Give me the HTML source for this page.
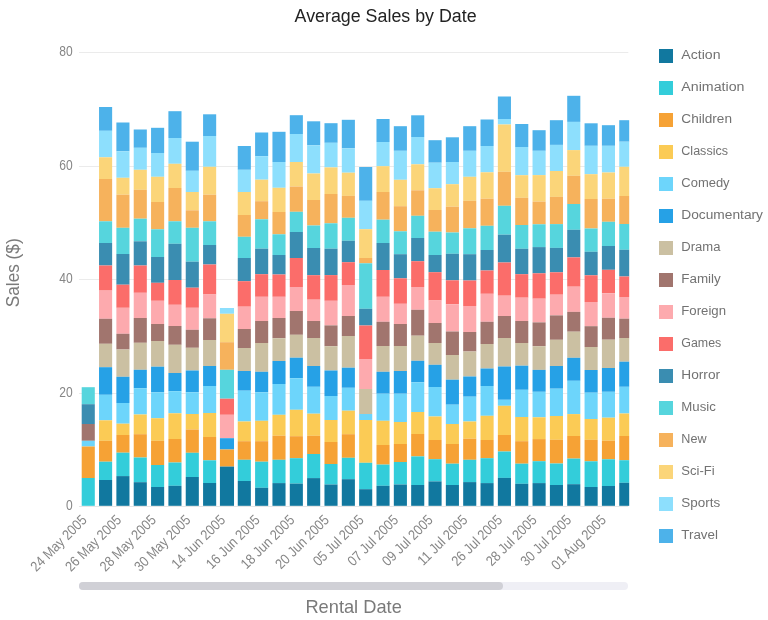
<!DOCTYPE html>
<html><head><meta charset="utf-8"><title>Average Sales by Date</title>
<style>html,body{margin:0;padding:0;background:#fff}body{width:768px;height:620px;overflow:hidden}svg{display:block;will-change:transform}text{font-family:"Liberation Sans",sans-serif}</style></head><body>
<svg width="768" height="620" viewBox="0 0 768 620">
<defs><clipPath id="pc"><rect x="78" y="40" width="551.2" height="470"/></clipPath></defs>
<rect width="768" height="620" fill="#fff"/>
<text x="385.6" y="22.0" font-size="18" fill="#222" text-anchor="middle" textLength="182.0" lengthAdjust="spacingAndGlyphs">Average Sales by Date</text>
<line x1="79" x2="628.3" y1="52.5" y2="52.5" stroke="#ebebeb" stroke-width="1"/>
<text x="72.6" y="56.0" font-size="14.3" fill="#868686" text-anchor="end" textLength="13.4" lengthAdjust="spacingAndGlyphs">80</text>
<line x1="79" x2="628.3" y1="166.5" y2="166.5" stroke="#ebebeb" stroke-width="1"/>
<text x="72.6" y="170.0" font-size="14.3" fill="#868686" text-anchor="end" textLength="13.4" lengthAdjust="spacingAndGlyphs">60</text>
<line x1="79" x2="628.3" y1="279.5" y2="279.5" stroke="#ebebeb" stroke-width="1"/>
<text x="72.6" y="283.0" font-size="14.3" fill="#868686" text-anchor="end" textLength="13.4" lengthAdjust="spacingAndGlyphs">40</text>
<line x1="79" x2="628.3" y1="393.5" y2="393.5" stroke="#ebebeb" stroke-width="1"/>
<text x="72.6" y="397.0" font-size="14.3" fill="#868686" text-anchor="end" textLength="13.4" lengthAdjust="spacingAndGlyphs">20</text>
<line x1="79" x2="628.3" y1="506.5" y2="506.5" stroke="#e6e6e6" stroke-width="1"/>
<text x="72.6" y="510.0" font-size="14.3" fill="#868686" text-anchor="end" textLength="6.7" lengthAdjust="spacingAndGlyphs">0</text>
<text transform="translate(18.7,272.8) rotate(-90)" font-size="19" fill="#7a7a7a" text-anchor="middle" textLength="68.8" lengthAdjust="spacingAndGlyphs">Sales ($)</text>
<g clip-path="url(#pc)" shape-rendering="auto">
<rect x="81.70" y="387.2" width="13.1" height="17.0" fill="#56d5dd"/>
<rect x="81.70" y="404.2" width="13.1" height="19.8" fill="#3a8db1"/>
<rect x="81.70" y="424.0" width="13.1" height="16.8" fill="#a1756e"/>
<rect x="81.70" y="440.8" width="13.1" height="5.7" fill="#6dd5fb"/>
<rect x="81.70" y="446.5" width="13.1" height="31.5" fill="#f6a235"/>
<rect x="81.70" y="478.0" width="13.1" height="27.8" fill="#33cdda"/>
<rect x="99.04" y="107.0" width="13.1" height="23.8" fill="#4db2ea"/>
<rect x="99.04" y="130.8" width="13.1" height="26.5" fill="#8ddffd"/>
<rect x="99.04" y="157.3" width="13.1" height="21.7" fill="#fbd579"/>
<rect x="99.04" y="179.0" width="13.1" height="42.3" fill="#f6b25c"/>
<rect x="99.04" y="221.3" width="13.1" height="21.7" fill="#56d5dd"/>
<rect x="99.04" y="243.0" width="13.1" height="22.5" fill="#3a8db1"/>
<rect x="99.04" y="265.5" width="13.1" height="25.1" fill="#fb6d6a"/>
<rect x="99.04" y="290.6" width="13.1" height="28.2" fill="#fdaaae"/>
<rect x="99.04" y="318.8" width="13.1" height="25.0" fill="#a1756e"/>
<rect x="99.04" y="343.8" width="13.1" height="23.4" fill="#cbc0a2"/>
<rect x="99.04" y="367.2" width="13.1" height="27.6" fill="#26a1e6"/>
<rect x="99.04" y="394.8" width="13.1" height="25.5" fill="#6dd5fb"/>
<rect x="99.04" y="420.3" width="13.1" height="20.5" fill="#fbcb55"/>
<rect x="99.04" y="440.8" width="13.1" height="20.9" fill="#f6a235"/>
<rect x="99.04" y="461.7" width="13.1" height="18.3" fill="#33cdda"/>
<rect x="99.04" y="480.0" width="13.1" height="25.8" fill="#11789f"/>
<rect x="116.38" y="122.5" width="13.1" height="28.8" fill="#4db2ea"/>
<rect x="116.38" y="151.3" width="13.1" height="26.5" fill="#8ddffd"/>
<rect x="116.38" y="177.8" width="13.1" height="16.9" fill="#fbd579"/>
<rect x="116.38" y="194.7" width="13.1" height="33.1" fill="#f6b25c"/>
<rect x="116.38" y="227.8" width="13.1" height="26.2" fill="#56d5dd"/>
<rect x="116.38" y="254.0" width="13.1" height="30.7" fill="#3a8db1"/>
<rect x="116.38" y="284.7" width="13.1" height="23.1" fill="#fb6d6a"/>
<rect x="116.38" y="307.8" width="13.1" height="26.0" fill="#fdaaae"/>
<rect x="116.38" y="333.8" width="13.1" height="15.7" fill="#a1756e"/>
<rect x="116.38" y="349.5" width="13.1" height="27.3" fill="#cbc0a2"/>
<rect x="116.38" y="376.8" width="13.1" height="26.2" fill="#26a1e6"/>
<rect x="116.38" y="403.0" width="13.1" height="20.7" fill="#6dd5fb"/>
<rect x="116.38" y="423.7" width="13.1" height="11.3" fill="#fbcb55"/>
<rect x="116.38" y="435.0" width="13.1" height="17.7" fill="#f6a235"/>
<rect x="116.38" y="452.7" width="13.1" height="23.4" fill="#33cdda"/>
<rect x="116.38" y="476.1" width="13.1" height="29.7" fill="#11789f"/>
<rect x="133.72" y="129.5" width="13.1" height="18.3" fill="#4db2ea"/>
<rect x="133.72" y="147.8" width="13.1" height="22.0" fill="#8ddffd"/>
<rect x="133.72" y="169.8" width="13.1" height="20.0" fill="#fbd579"/>
<rect x="133.72" y="189.8" width="13.1" height="28.9" fill="#f6b25c"/>
<rect x="133.72" y="218.7" width="13.1" height="22.6" fill="#56d5dd"/>
<rect x="133.72" y="241.3" width="13.1" height="24.2" fill="#3a8db1"/>
<rect x="133.72" y="265.5" width="13.1" height="27.3" fill="#fb6d6a"/>
<rect x="133.72" y="292.8" width="13.1" height="25.2" fill="#fdaaae"/>
<rect x="133.72" y="318.0" width="13.1" height="24.8" fill="#a1756e"/>
<rect x="133.72" y="342.8" width="13.1" height="27.0" fill="#cbc0a2"/>
<rect x="133.72" y="369.8" width="13.1" height="18.4" fill="#26a1e6"/>
<rect x="133.72" y="388.2" width="13.1" height="26.3" fill="#6dd5fb"/>
<rect x="133.72" y="414.5" width="13.1" height="19.7" fill="#fbcb55"/>
<rect x="133.72" y="434.2" width="13.1" height="23.3" fill="#f6a235"/>
<rect x="133.72" y="457.5" width="13.1" height="24.7" fill="#33cdda"/>
<rect x="133.72" y="482.2" width="13.1" height="23.6" fill="#11789f"/>
<rect x="151.06" y="127.8" width="13.1" height="25.2" fill="#4db2ea"/>
<rect x="151.06" y="153.0" width="13.1" height="23.8" fill="#8ddffd"/>
<rect x="151.06" y="176.8" width="13.1" height="25.2" fill="#fbd579"/>
<rect x="151.06" y="202.0" width="13.1" height="27.3" fill="#f6b25c"/>
<rect x="151.06" y="229.3" width="13.1" height="27.7" fill="#56d5dd"/>
<rect x="151.06" y="257.0" width="13.1" height="25.8" fill="#3a8db1"/>
<rect x="151.06" y="282.8" width="13.1" height="18.0" fill="#fb6d6a"/>
<rect x="151.06" y="300.8" width="13.1" height="23.2" fill="#fdaaae"/>
<rect x="151.06" y="324.0" width="13.1" height="17.0" fill="#a1756e"/>
<rect x="151.06" y="341.0" width="13.1" height="25.7" fill="#cbc0a2"/>
<rect x="151.06" y="366.7" width="13.1" height="25.6" fill="#26a1e6"/>
<rect x="151.06" y="392.3" width="13.1" height="25.9" fill="#6dd5fb"/>
<rect x="151.06" y="418.2" width="13.1" height="22.6" fill="#fbcb55"/>
<rect x="151.06" y="440.8" width="13.1" height="24.2" fill="#f6a235"/>
<rect x="151.06" y="465.0" width="13.1" height="22.0" fill="#33cdda"/>
<rect x="151.06" y="487.0" width="13.1" height="18.8" fill="#11789f"/>
<rect x="168.40" y="111.2" width="13.1" height="26.8" fill="#4db2ea"/>
<rect x="168.40" y="138.0" width="13.1" height="25.8" fill="#8ddffd"/>
<rect x="168.40" y="163.8" width="13.1" height="24.2" fill="#fbd579"/>
<rect x="168.40" y="188.0" width="13.1" height="33.3" fill="#f6b25c"/>
<rect x="168.40" y="221.3" width="13.1" height="22.5" fill="#56d5dd"/>
<rect x="168.40" y="243.8" width="13.1" height="36.2" fill="#3a8db1"/>
<rect x="168.40" y="280.0" width="13.1" height="24.8" fill="#fb6d6a"/>
<rect x="168.40" y="304.8" width="13.1" height="21.2" fill="#fdaaae"/>
<rect x="168.40" y="326.0" width="13.1" height="18.8" fill="#a1756e"/>
<rect x="168.40" y="344.8" width="13.1" height="28.2" fill="#cbc0a2"/>
<rect x="168.40" y="373.0" width="13.1" height="18.2" fill="#26a1e6"/>
<rect x="168.40" y="391.2" width="13.1" height="22.1" fill="#6dd5fb"/>
<rect x="168.40" y="413.3" width="13.1" height="25.7" fill="#fbcb55"/>
<rect x="168.40" y="439.0" width="13.1" height="23.5" fill="#f6a235"/>
<rect x="168.40" y="462.5" width="13.1" height="23.3" fill="#33cdda"/>
<rect x="168.40" y="485.8" width="13.1" height="20.0" fill="#11789f"/>
<rect x="185.74" y="141.7" width="13.1" height="29.1" fill="#4db2ea"/>
<rect x="185.74" y="170.8" width="13.1" height="21.2" fill="#8ddffd"/>
<rect x="185.74" y="192.0" width="13.1" height="18.3" fill="#fbd579"/>
<rect x="185.74" y="210.3" width="13.1" height="17.5" fill="#f6b25c"/>
<rect x="185.74" y="227.8" width="13.1" height="33.9" fill="#56d5dd"/>
<rect x="185.74" y="261.7" width="13.1" height="26.0" fill="#3a8db1"/>
<rect x="185.74" y="287.7" width="13.1" height="20.1" fill="#fb6d6a"/>
<rect x="185.74" y="307.8" width="13.1" height="22.0" fill="#fdaaae"/>
<rect x="185.74" y="329.8" width="13.1" height="18.0" fill="#a1756e"/>
<rect x="185.74" y="347.8" width="13.1" height="22.7" fill="#cbc0a2"/>
<rect x="185.74" y="370.5" width="13.1" height="21.8" fill="#26a1e6"/>
<rect x="185.74" y="392.3" width="13.1" height="21.7" fill="#6dd5fb"/>
<rect x="185.74" y="414.0" width="13.1" height="15.5" fill="#fbcb55"/>
<rect x="185.74" y="429.5" width="13.1" height="23.3" fill="#f6a235"/>
<rect x="185.74" y="452.8" width="13.1" height="24.2" fill="#33cdda"/>
<rect x="185.74" y="477.0" width="13.1" height="28.8" fill="#11789f"/>
<rect x="203.08" y="114.3" width="13.1" height="21.7" fill="#4db2ea"/>
<rect x="203.08" y="136.0" width="13.1" height="30.8" fill="#8ddffd"/>
<rect x="203.08" y="166.8" width="13.1" height="27.9" fill="#fbd579"/>
<rect x="203.08" y="194.7" width="13.1" height="26.6" fill="#f6b25c"/>
<rect x="203.08" y="221.3" width="13.1" height="23.7" fill="#56d5dd"/>
<rect x="203.08" y="245.0" width="13.1" height="19.5" fill="#3a8db1"/>
<rect x="203.08" y="264.5" width="13.1" height="30.0" fill="#fb6d6a"/>
<rect x="203.08" y="294.5" width="13.1" height="23.8" fill="#fdaaae"/>
<rect x="203.08" y="318.3" width="13.1" height="21.7" fill="#a1756e"/>
<rect x="203.08" y="340.0" width="13.1" height="26.0" fill="#cbc0a2"/>
<rect x="203.08" y="366.0" width="13.1" height="20.0" fill="#26a1e6"/>
<rect x="203.08" y="386.0" width="13.1" height="27.0" fill="#6dd5fb"/>
<rect x="203.08" y="413.0" width="13.1" height="24.0" fill="#fbcb55"/>
<rect x="203.08" y="437.0" width="13.1" height="23.3" fill="#f6a235"/>
<rect x="203.08" y="460.3" width="13.1" height="22.7" fill="#33cdda"/>
<rect x="203.08" y="483.0" width="13.1" height="22.8" fill="#11789f"/>
<rect x="219.92" y="308.0" width="14.1" height="5.8" fill="#8ddffd"/>
<rect x="219.92" y="313.8" width="14.1" height="28.4" fill="#fbd579"/>
<rect x="219.92" y="342.2" width="14.1" height="27.6" fill="#f6b25c"/>
<rect x="219.92" y="369.8" width="14.1" height="28.9" fill="#56d5dd"/>
<rect x="219.92" y="398.7" width="14.1" height="16.1" fill="#fb6d6a"/>
<rect x="219.92" y="414.8" width="14.1" height="23.4" fill="#fdaaae"/>
<rect x="219.92" y="438.2" width="14.1" height="11.3" fill="#26a1e6"/>
<rect x="219.92" y="449.5" width="14.1" height="17.1" fill="#f6a235"/>
<rect x="219.92" y="466.6" width="14.1" height="39.2" fill="#11789f"/>
<rect x="237.76" y="146.0" width="13.1" height="23.8" fill="#4db2ea"/>
<rect x="237.76" y="169.8" width="13.1" height="22.2" fill="#8ddffd"/>
<rect x="237.76" y="192.0" width="13.1" height="23.0" fill="#fbd579"/>
<rect x="237.76" y="215.0" width="13.1" height="21.8" fill="#f6b25c"/>
<rect x="237.76" y="236.8" width="13.1" height="21.2" fill="#56d5dd"/>
<rect x="237.76" y="258.0" width="13.1" height="23.2" fill="#3a8db1"/>
<rect x="237.76" y="281.2" width="13.1" height="25.5" fill="#fb6d6a"/>
<rect x="237.76" y="306.7" width="13.1" height="22.3" fill="#fdaaae"/>
<rect x="237.76" y="329.0" width="13.1" height="19.0" fill="#a1756e"/>
<rect x="237.76" y="348.0" width="13.1" height="23.0" fill="#cbc0a2"/>
<rect x="237.76" y="371.0" width="13.1" height="19.7" fill="#26a1e6"/>
<rect x="237.76" y="390.7" width="13.1" height="30.8" fill="#6dd5fb"/>
<rect x="237.76" y="421.5" width="13.1" height="19.7" fill="#fbcb55"/>
<rect x="237.76" y="441.2" width="13.1" height="18.6" fill="#f6a235"/>
<rect x="237.76" y="459.8" width="13.1" height="21.2" fill="#33cdda"/>
<rect x="237.76" y="481.0" width="13.1" height="24.8" fill="#11789f"/>
<rect x="255.10" y="132.5" width="13.1" height="23.7" fill="#4db2ea"/>
<rect x="255.10" y="156.2" width="13.1" height="23.5" fill="#8ddffd"/>
<rect x="255.10" y="179.7" width="13.1" height="21.5" fill="#fbd579"/>
<rect x="255.10" y="201.2" width="13.1" height="18.1" fill="#f6b25c"/>
<rect x="255.10" y="219.3" width="13.1" height="29.4" fill="#56d5dd"/>
<rect x="255.10" y="248.7" width="13.1" height="25.5" fill="#3a8db1"/>
<rect x="255.10" y="274.2" width="13.1" height="22.6" fill="#fb6d6a"/>
<rect x="255.10" y="296.8" width="13.1" height="24.2" fill="#fdaaae"/>
<rect x="255.10" y="321.0" width="13.1" height="22.0" fill="#a1756e"/>
<rect x="255.10" y="343.0" width="13.1" height="28.8" fill="#cbc0a2"/>
<rect x="255.10" y="371.8" width="13.1" height="20.5" fill="#26a1e6"/>
<rect x="255.10" y="392.3" width="13.1" height="28.5" fill="#6dd5fb"/>
<rect x="255.10" y="420.8" width="13.1" height="20.4" fill="#fbcb55"/>
<rect x="255.10" y="441.2" width="13.1" height="20.5" fill="#f6a235"/>
<rect x="255.10" y="461.7" width="13.1" height="26.1" fill="#33cdda"/>
<rect x="255.10" y="487.8" width="13.1" height="18.0" fill="#11789f"/>
<rect x="272.44" y="131.8" width="13.1" height="30.2" fill="#4db2ea"/>
<rect x="272.44" y="162.0" width="13.1" height="25.8" fill="#8ddffd"/>
<rect x="272.44" y="187.8" width="13.1" height="24.2" fill="#fbd579"/>
<rect x="272.44" y="212.0" width="13.1" height="22.3" fill="#f6b25c"/>
<rect x="272.44" y="234.3" width="13.1" height="20.7" fill="#56d5dd"/>
<rect x="272.44" y="255.0" width="13.1" height="19.5" fill="#3a8db1"/>
<rect x="272.44" y="274.5" width="13.1" height="22.3" fill="#fb6d6a"/>
<rect x="272.44" y="296.8" width="13.1" height="21.2" fill="#fdaaae"/>
<rect x="272.44" y="318.0" width="13.1" height="20.3" fill="#a1756e"/>
<rect x="272.44" y="338.3" width="13.1" height="22.7" fill="#cbc0a2"/>
<rect x="272.44" y="361.0" width="13.1" height="23.0" fill="#26a1e6"/>
<rect x="272.44" y="384.0" width="13.1" height="30.8" fill="#6dd5fb"/>
<rect x="272.44" y="414.8" width="13.1" height="20.9" fill="#fbcb55"/>
<rect x="272.44" y="435.7" width="13.1" height="24.1" fill="#f6a235"/>
<rect x="272.44" y="459.8" width="13.1" height="23.3" fill="#33cdda"/>
<rect x="272.44" y="483.1" width="13.1" height="22.7" fill="#11789f"/>
<rect x="289.78" y="115.2" width="13.1" height="18.8" fill="#4db2ea"/>
<rect x="289.78" y="134.0" width="13.1" height="28.0" fill="#8ddffd"/>
<rect x="289.78" y="162.0" width="13.1" height="24.5" fill="#fbd579"/>
<rect x="289.78" y="186.5" width="13.1" height="25.3" fill="#f6b25c"/>
<rect x="289.78" y="211.8" width="13.1" height="20.2" fill="#56d5dd"/>
<rect x="289.78" y="232.0" width="13.1" height="26.0" fill="#3a8db1"/>
<rect x="289.78" y="258.0" width="13.1" height="29.0" fill="#fb6d6a"/>
<rect x="289.78" y="287.0" width="13.1" height="24.0" fill="#fdaaae"/>
<rect x="289.78" y="311.0" width="13.1" height="23.8" fill="#a1756e"/>
<rect x="289.78" y="334.8" width="13.1" height="22.9" fill="#cbc0a2"/>
<rect x="289.78" y="357.7" width="13.1" height="20.5" fill="#26a1e6"/>
<rect x="289.78" y="378.2" width="13.1" height="31.6" fill="#6dd5fb"/>
<rect x="289.78" y="409.8" width="13.1" height="26.4" fill="#fbcb55"/>
<rect x="289.78" y="436.2" width="13.1" height="22.0" fill="#f6a235"/>
<rect x="289.78" y="458.2" width="13.1" height="25.4" fill="#33cdda"/>
<rect x="289.78" y="483.6" width="13.1" height="22.2" fill="#11789f"/>
<rect x="307.12" y="121.3" width="13.1" height="24.0" fill="#4db2ea"/>
<rect x="307.12" y="145.3" width="13.1" height="28.2" fill="#8ddffd"/>
<rect x="307.12" y="173.5" width="13.1" height="26.5" fill="#fbd579"/>
<rect x="307.12" y="200.0" width="13.1" height="25.5" fill="#f6b25c"/>
<rect x="307.12" y="225.5" width="13.1" height="22.5" fill="#56d5dd"/>
<rect x="307.12" y="248.0" width="13.1" height="27.2" fill="#3a8db1"/>
<rect x="307.12" y="275.2" width="13.1" height="24.5" fill="#fb6d6a"/>
<rect x="307.12" y="299.7" width="13.1" height="21.3" fill="#fdaaae"/>
<rect x="307.12" y="321.0" width="13.1" height="17.0" fill="#a1756e"/>
<rect x="307.12" y="338.0" width="13.1" height="28.0" fill="#cbc0a2"/>
<rect x="307.12" y="366.0" width="13.1" height="20.8" fill="#26a1e6"/>
<rect x="307.12" y="386.8" width="13.1" height="26.9" fill="#6dd5fb"/>
<rect x="307.12" y="413.7" width="13.1" height="22.1" fill="#fbcb55"/>
<rect x="307.12" y="435.8" width="13.1" height="18.2" fill="#f6a235"/>
<rect x="307.12" y="454.0" width="13.1" height="24.1" fill="#33cdda"/>
<rect x="307.12" y="478.1" width="13.1" height="27.7" fill="#11789f"/>
<rect x="324.46" y="123.2" width="13.1" height="19.6" fill="#4db2ea"/>
<rect x="324.46" y="142.8" width="13.1" height="24.6" fill="#8ddffd"/>
<rect x="324.46" y="167.4" width="13.1" height="26.6" fill="#fbd579"/>
<rect x="324.46" y="194.0" width="13.1" height="29.3" fill="#f6b25c"/>
<rect x="324.46" y="223.3" width="13.1" height="25.4" fill="#56d5dd"/>
<rect x="324.46" y="248.7" width="13.1" height="26.4" fill="#3a8db1"/>
<rect x="324.46" y="275.1" width="13.1" height="25.7" fill="#fb6d6a"/>
<rect x="324.46" y="300.8" width="13.1" height="24.6" fill="#fdaaae"/>
<rect x="324.46" y="325.4" width="13.1" height="20.8" fill="#a1756e"/>
<rect x="324.46" y="346.2" width="13.1" height="24.3" fill="#cbc0a2"/>
<rect x="324.46" y="370.5" width="13.1" height="25.5" fill="#26a1e6"/>
<rect x="324.46" y="396.0" width="13.1" height="24.0" fill="#6dd5fb"/>
<rect x="324.46" y="420.0" width="13.1" height="22.0" fill="#fbcb55"/>
<rect x="324.46" y="442.0" width="13.1" height="22.0" fill="#f6a235"/>
<rect x="324.46" y="464.0" width="13.1" height="20.5" fill="#33cdda"/>
<rect x="324.46" y="484.5" width="13.1" height="21.3" fill="#11789f"/>
<rect x="341.80" y="119.8" width="13.1" height="28.5" fill="#4db2ea"/>
<rect x="341.80" y="148.3" width="13.1" height="24.4" fill="#8ddffd"/>
<rect x="341.80" y="172.7" width="13.1" height="23.2" fill="#fbd579"/>
<rect x="341.80" y="195.9" width="13.1" height="21.9" fill="#f6b25c"/>
<rect x="341.80" y="217.8" width="13.1" height="23.0" fill="#56d5dd"/>
<rect x="341.80" y="240.8" width="13.1" height="21.4" fill="#3a8db1"/>
<rect x="341.80" y="262.2" width="13.1" height="22.8" fill="#fb6d6a"/>
<rect x="341.80" y="285.0" width="13.1" height="31.0" fill="#fdaaae"/>
<rect x="341.80" y="316.0" width="13.1" height="20.0" fill="#a1756e"/>
<rect x="341.80" y="336.0" width="13.1" height="31.7" fill="#cbc0a2"/>
<rect x="341.80" y="367.7" width="13.1" height="20.1" fill="#26a1e6"/>
<rect x="341.80" y="387.8" width="13.1" height="22.9" fill="#6dd5fb"/>
<rect x="341.80" y="410.7" width="13.1" height="23.5" fill="#fbcb55"/>
<rect x="341.80" y="434.2" width="13.1" height="23.6" fill="#f6a235"/>
<rect x="341.80" y="457.8" width="13.1" height="21.4" fill="#33cdda"/>
<rect x="341.80" y="479.2" width="13.1" height="26.6" fill="#11789f"/>
<rect x="359.14" y="167.0" width="13.1" height="33.8" fill="#4db2ea"/>
<rect x="359.14" y="200.8" width="13.1" height="28.4" fill="#8ddffd"/>
<rect x="359.14" y="229.2" width="13.1" height="28.8" fill="#fbd579"/>
<rect x="359.14" y="258.0" width="13.1" height="5.3" fill="#f6b25c"/>
<rect x="359.14" y="263.3" width="13.1" height="45.5" fill="#56d5dd"/>
<rect x="359.14" y="308.8" width="13.1" height="16.7" fill="#3a8db1"/>
<rect x="359.14" y="325.5" width="13.1" height="33.5" fill="#fb6d6a"/>
<rect x="359.14" y="359.0" width="13.1" height="30.0" fill="#fdaaae"/>
<rect x="359.14" y="389.0" width="13.1" height="25.0" fill="#cbc0a2"/>
<rect x="359.14" y="414.0" width="13.1" height="6.0" fill="#6dd5fb"/>
<rect x="359.14" y="420.0" width="13.1" height="42.8" fill="#fbcb55"/>
<rect x="359.14" y="462.8" width="13.1" height="26.4" fill="#33cdda"/>
<rect x="359.14" y="489.2" width="13.1" height="16.6" fill="#11789f"/>
<rect x="376.48" y="119.0" width="13.1" height="23.0" fill="#4db2ea"/>
<rect x="376.48" y="142.0" width="13.1" height="24.2" fill="#8ddffd"/>
<rect x="376.48" y="166.2" width="13.1" height="25.8" fill="#fbd579"/>
<rect x="376.48" y="192.0" width="13.1" height="27.7" fill="#f6b25c"/>
<rect x="376.48" y="219.7" width="13.1" height="23.3" fill="#56d5dd"/>
<rect x="376.48" y="243.0" width="13.1" height="27.0" fill="#3a8db1"/>
<rect x="376.48" y="270.0" width="13.1" height="26.8" fill="#fb6d6a"/>
<rect x="376.48" y="296.8" width="13.1" height="25.0" fill="#fdaaae"/>
<rect x="376.48" y="321.8" width="13.1" height="24.2" fill="#a1756e"/>
<rect x="376.48" y="346.0" width="13.1" height="25.8" fill="#cbc0a2"/>
<rect x="376.48" y="371.8" width="13.1" height="21.9" fill="#26a1e6"/>
<rect x="376.48" y="393.7" width="13.1" height="27.1" fill="#6dd5fb"/>
<rect x="376.48" y="420.8" width="13.1" height="24.2" fill="#fbcb55"/>
<rect x="376.48" y="445.0" width="13.1" height="19.6" fill="#f6a235"/>
<rect x="376.48" y="464.6" width="13.1" height="21.2" fill="#33cdda"/>
<rect x="376.48" y="485.8" width="13.1" height="20.0" fill="#11789f"/>
<rect x="393.82" y="126.2" width="13.1" height="24.6" fill="#4db2ea"/>
<rect x="393.82" y="150.8" width="13.1" height="29.0" fill="#8ddffd"/>
<rect x="393.82" y="179.8" width="13.1" height="26.4" fill="#fbd579"/>
<rect x="393.82" y="206.2" width="13.1" height="25.1" fill="#f6b25c"/>
<rect x="393.82" y="231.3" width="13.1" height="22.9" fill="#56d5dd"/>
<rect x="393.82" y="254.2" width="13.1" height="24.1" fill="#3a8db1"/>
<rect x="393.82" y="278.3" width="13.1" height="25.5" fill="#fb6d6a"/>
<rect x="393.82" y="303.8" width="13.1" height="20.2" fill="#fdaaae"/>
<rect x="393.82" y="324.0" width="13.1" height="22.0" fill="#a1756e"/>
<rect x="393.82" y="346.0" width="13.1" height="25.0" fill="#cbc0a2"/>
<rect x="393.82" y="371.0" width="13.1" height="22.7" fill="#26a1e6"/>
<rect x="393.82" y="393.7" width="13.1" height="28.3" fill="#6dd5fb"/>
<rect x="393.82" y="422.0" width="13.1" height="22.0" fill="#fbcb55"/>
<rect x="393.82" y="444.0" width="13.1" height="18.0" fill="#f6a235"/>
<rect x="393.82" y="462.0" width="13.1" height="22.5" fill="#33cdda"/>
<rect x="393.82" y="484.5" width="13.1" height="21.3" fill="#11789f"/>
<rect x="411.16" y="115.3" width="13.1" height="21.7" fill="#4db2ea"/>
<rect x="411.16" y="137.0" width="13.1" height="27.3" fill="#8ddffd"/>
<rect x="411.16" y="164.3" width="13.1" height="26.0" fill="#fbd579"/>
<rect x="411.16" y="190.3" width="13.1" height="25.5" fill="#f6b25c"/>
<rect x="411.16" y="215.8" width="13.1" height="22.2" fill="#56d5dd"/>
<rect x="411.16" y="238.0" width="13.1" height="23.2" fill="#3a8db1"/>
<rect x="411.16" y="261.2" width="13.1" height="25.8" fill="#fb6d6a"/>
<rect x="411.16" y="287.0" width="13.1" height="22.8" fill="#fdaaae"/>
<rect x="411.16" y="309.8" width="13.1" height="25.9" fill="#a1756e"/>
<rect x="411.16" y="335.7" width="13.1" height="25.1" fill="#cbc0a2"/>
<rect x="411.16" y="360.8" width="13.1" height="21.5" fill="#26a1e6"/>
<rect x="411.16" y="382.3" width="13.1" height="29.7" fill="#6dd5fb"/>
<rect x="411.16" y="412.0" width="13.1" height="22.0" fill="#fbcb55"/>
<rect x="411.16" y="434.0" width="13.1" height="22.4" fill="#f6a235"/>
<rect x="411.16" y="456.4" width="13.1" height="28.6" fill="#33cdda"/>
<rect x="411.16" y="485.0" width="13.1" height="20.8" fill="#11789f"/>
<rect x="428.50" y="140.2" width="13.1" height="22.5" fill="#4db2ea"/>
<rect x="428.50" y="162.7" width="13.1" height="25.5" fill="#8ddffd"/>
<rect x="428.50" y="188.2" width="13.1" height="21.8" fill="#fbd579"/>
<rect x="428.50" y="210.0" width="13.1" height="21.7" fill="#f6b25c"/>
<rect x="428.50" y="231.7" width="13.1" height="23.3" fill="#56d5dd"/>
<rect x="428.50" y="255.0" width="13.1" height="17.2" fill="#3a8db1"/>
<rect x="428.50" y="272.2" width="13.1" height="28.3" fill="#fb6d6a"/>
<rect x="428.50" y="300.5" width="13.1" height="22.5" fill="#fdaaae"/>
<rect x="428.50" y="323.0" width="13.1" height="20.0" fill="#a1756e"/>
<rect x="428.50" y="343.0" width="13.1" height="21.8" fill="#cbc0a2"/>
<rect x="428.50" y="364.8" width="13.1" height="22.2" fill="#26a1e6"/>
<rect x="428.50" y="387.0" width="13.1" height="29.5" fill="#6dd5fb"/>
<rect x="428.50" y="416.5" width="13.1" height="23.5" fill="#fbcb55"/>
<rect x="428.50" y="440.0" width="13.1" height="19.2" fill="#f6a235"/>
<rect x="428.50" y="459.2" width="13.1" height="22.2" fill="#33cdda"/>
<rect x="428.50" y="481.4" width="13.1" height="24.4" fill="#11789f"/>
<rect x="445.84" y="137.3" width="13.1" height="24.7" fill="#4db2ea"/>
<rect x="445.84" y="162.0" width="13.1" height="22.2" fill="#8ddffd"/>
<rect x="445.84" y="184.2" width="13.1" height="22.5" fill="#fbd579"/>
<rect x="445.84" y="206.7" width="13.1" height="25.8" fill="#f6b25c"/>
<rect x="445.84" y="232.5" width="13.1" height="21.3" fill="#56d5dd"/>
<rect x="445.84" y="253.8" width="13.1" height="26.5" fill="#3a8db1"/>
<rect x="445.84" y="280.3" width="13.1" height="24.0" fill="#fb6d6a"/>
<rect x="445.84" y="304.3" width="13.1" height="27.2" fill="#fdaaae"/>
<rect x="445.84" y="331.5" width="13.1" height="23.5" fill="#a1756e"/>
<rect x="445.84" y="355.0" width="13.1" height="24.7" fill="#cbc0a2"/>
<rect x="445.84" y="379.7" width="13.1" height="25.0" fill="#26a1e6"/>
<rect x="445.84" y="404.7" width="13.1" height="19.3" fill="#6dd5fb"/>
<rect x="445.84" y="424.0" width="13.1" height="20.0" fill="#fbcb55"/>
<rect x="445.84" y="444.0" width="13.1" height="19.7" fill="#f6a235"/>
<rect x="445.84" y="463.7" width="13.1" height="21.3" fill="#33cdda"/>
<rect x="445.84" y="485.0" width="13.1" height="20.8" fill="#11789f"/>
<rect x="463.18" y="126.2" width="13.1" height="24.6" fill="#4db2ea"/>
<rect x="463.18" y="150.8" width="13.1" height="26.0" fill="#8ddffd"/>
<rect x="463.18" y="176.8" width="13.1" height="24.0" fill="#fbd579"/>
<rect x="463.18" y="200.8" width="13.1" height="27.5" fill="#f6b25c"/>
<rect x="463.18" y="228.3" width="13.1" height="25.9" fill="#56d5dd"/>
<rect x="463.18" y="254.2" width="13.1" height="26.3" fill="#3a8db1"/>
<rect x="463.18" y="280.5" width="13.1" height="25.5" fill="#fb6d6a"/>
<rect x="463.18" y="306.0" width="13.1" height="26.0" fill="#fdaaae"/>
<rect x="463.18" y="332.0" width="13.1" height="19.5" fill="#a1756e"/>
<rect x="463.18" y="351.5" width="13.1" height="25.0" fill="#cbc0a2"/>
<rect x="463.18" y="376.5" width="13.1" height="20.2" fill="#26a1e6"/>
<rect x="463.18" y="396.7" width="13.1" height="24.8" fill="#6dd5fb"/>
<rect x="463.18" y="421.5" width="13.1" height="17.2" fill="#fbcb55"/>
<rect x="463.18" y="438.7" width="13.1" height="21.1" fill="#f6a235"/>
<rect x="463.18" y="459.8" width="13.1" height="22.3" fill="#33cdda"/>
<rect x="463.18" y="482.1" width="13.1" height="23.7" fill="#11789f"/>
<rect x="480.52" y="119.5" width="13.1" height="26.5" fill="#4db2ea"/>
<rect x="480.52" y="146.0" width="13.1" height="26.3" fill="#8ddffd"/>
<rect x="480.52" y="172.3" width="13.1" height="26.4" fill="#fbd579"/>
<rect x="480.52" y="198.7" width="13.1" height="27.1" fill="#f6b25c"/>
<rect x="480.52" y="225.8" width="13.1" height="24.2" fill="#56d5dd"/>
<rect x="480.52" y="250.0" width="13.1" height="20.5" fill="#3a8db1"/>
<rect x="480.52" y="270.5" width="13.1" height="23.3" fill="#fb6d6a"/>
<rect x="480.52" y="293.8" width="13.1" height="28.0" fill="#fdaaae"/>
<rect x="480.52" y="321.8" width="13.1" height="22.2" fill="#a1756e"/>
<rect x="480.52" y="344.0" width="13.1" height="24.5" fill="#cbc0a2"/>
<rect x="480.52" y="368.5" width="13.1" height="17.5" fill="#26a1e6"/>
<rect x="480.52" y="386.0" width="13.1" height="29.8" fill="#6dd5fb"/>
<rect x="480.52" y="415.8" width="13.1" height="24.2" fill="#fbcb55"/>
<rect x="480.52" y="440.0" width="13.1" height="18.2" fill="#f6a235"/>
<rect x="480.52" y="458.2" width="13.1" height="24.9" fill="#33cdda"/>
<rect x="480.52" y="483.1" width="13.1" height="22.7" fill="#11789f"/>
<rect x="497.86" y="96.5" width="13.1" height="22.5" fill="#4db2ea"/>
<rect x="497.86" y="119.0" width="13.1" height="5.5" fill="#8ddffd"/>
<rect x="497.86" y="124.5" width="13.1" height="47.3" fill="#fbd579"/>
<rect x="497.86" y="171.8" width="13.1" height="34.0" fill="#f6b25c"/>
<rect x="497.86" y="205.8" width="13.1" height="28.9" fill="#56d5dd"/>
<rect x="497.86" y="234.7" width="13.1" height="27.8" fill="#3a8db1"/>
<rect x="497.86" y="262.5" width="13.1" height="33.2" fill="#fb6d6a"/>
<rect x="497.86" y="295.7" width="13.1" height="20.3" fill="#fdaaae"/>
<rect x="497.86" y="316.0" width="13.1" height="22.0" fill="#a1756e"/>
<rect x="497.86" y="338.0" width="13.1" height="28.5" fill="#cbc0a2"/>
<rect x="497.86" y="366.5" width="13.1" height="33.3" fill="#26a1e6"/>
<rect x="497.86" y="399.8" width="13.1" height="6.0" fill="#6dd5fb"/>
<rect x="497.86" y="405.8" width="13.1" height="29.2" fill="#fbcb55"/>
<rect x="497.86" y="435.0" width="13.1" height="16.5" fill="#f6a235"/>
<rect x="497.86" y="451.5" width="13.1" height="26.4" fill="#33cdda"/>
<rect x="497.86" y="477.9" width="13.1" height="27.9" fill="#11789f"/>
<rect x="515.20" y="124.0" width="13.1" height="23.0" fill="#4db2ea"/>
<rect x="515.20" y="147.0" width="13.1" height="28.2" fill="#8ddffd"/>
<rect x="515.20" y="175.2" width="13.1" height="22.6" fill="#fbd579"/>
<rect x="515.20" y="197.8" width="13.1" height="27.2" fill="#f6b25c"/>
<rect x="515.20" y="225.0" width="13.1" height="23.8" fill="#56d5dd"/>
<rect x="515.20" y="248.8" width="13.1" height="25.4" fill="#3a8db1"/>
<rect x="515.20" y="274.2" width="13.1" height="23.5" fill="#fb6d6a"/>
<rect x="515.20" y="297.7" width="13.1" height="23.3" fill="#fdaaae"/>
<rect x="515.20" y="321.0" width="13.1" height="22.0" fill="#a1756e"/>
<rect x="515.20" y="343.0" width="13.1" height="22.7" fill="#cbc0a2"/>
<rect x="515.20" y="365.7" width="13.1" height="24.1" fill="#26a1e6"/>
<rect x="515.20" y="389.8" width="13.1" height="27.2" fill="#6dd5fb"/>
<rect x="515.20" y="417.0" width="13.1" height="24.2" fill="#fbcb55"/>
<rect x="515.20" y="441.2" width="13.1" height="22.5" fill="#f6a235"/>
<rect x="515.20" y="463.7" width="13.1" height="20.1" fill="#33cdda"/>
<rect x="515.20" y="483.8" width="13.1" height="22.0" fill="#11789f"/>
<rect x="532.54" y="130.2" width="13.1" height="20.6" fill="#4db2ea"/>
<rect x="532.54" y="150.8" width="13.1" height="24.3" fill="#8ddffd"/>
<rect x="532.54" y="175.1" width="13.1" height="26.5" fill="#fbd579"/>
<rect x="532.54" y="201.6" width="13.1" height="22.7" fill="#f6b25c"/>
<rect x="532.54" y="224.3" width="13.1" height="22.8" fill="#56d5dd"/>
<rect x="532.54" y="247.1" width="13.1" height="26.2" fill="#3a8db1"/>
<rect x="532.54" y="273.3" width="13.1" height="25.4" fill="#fb6d6a"/>
<rect x="532.54" y="298.7" width="13.1" height="23.7" fill="#fdaaae"/>
<rect x="532.54" y="322.4" width="13.1" height="23.8" fill="#a1756e"/>
<rect x="532.54" y="346.2" width="13.1" height="23.7" fill="#cbc0a2"/>
<rect x="532.54" y="369.9" width="13.1" height="21.9" fill="#26a1e6"/>
<rect x="532.54" y="391.8" width="13.1" height="25.5" fill="#6dd5fb"/>
<rect x="532.54" y="417.3" width="13.1" height="21.8" fill="#fbcb55"/>
<rect x="532.54" y="439.1" width="13.1" height="22.1" fill="#f6a235"/>
<rect x="532.54" y="461.2" width="13.1" height="21.9" fill="#33cdda"/>
<rect x="532.54" y="483.1" width="13.1" height="22.7" fill="#11789f"/>
<rect x="549.88" y="120.2" width="13.1" height="24.7" fill="#4db2ea"/>
<rect x="549.88" y="144.9" width="13.1" height="26.1" fill="#8ddffd"/>
<rect x="549.88" y="171.0" width="13.1" height="25.9" fill="#fbd579"/>
<rect x="549.88" y="196.9" width="13.1" height="27.2" fill="#f6b25c"/>
<rect x="549.88" y="224.1" width="13.1" height="23.8" fill="#56d5dd"/>
<rect x="549.88" y="247.9" width="13.1" height="24.4" fill="#3a8db1"/>
<rect x="549.88" y="272.3" width="13.1" height="22.4" fill="#fb6d6a"/>
<rect x="549.88" y="294.7" width="13.1" height="20.7" fill="#fdaaae"/>
<rect x="549.88" y="315.4" width="13.1" height="24.4" fill="#a1756e"/>
<rect x="549.88" y="339.8" width="13.1" height="26.2" fill="#cbc0a2"/>
<rect x="549.88" y="366.0" width="13.1" height="22.7" fill="#26a1e6"/>
<rect x="549.88" y="388.7" width="13.1" height="27.3" fill="#6dd5fb"/>
<rect x="549.88" y="416.0" width="13.1" height="23.8" fill="#fbcb55"/>
<rect x="549.88" y="439.8" width="13.1" height="23.7" fill="#f6a235"/>
<rect x="549.88" y="463.5" width="13.1" height="21.5" fill="#33cdda"/>
<rect x="549.88" y="485.0" width="13.1" height="20.8" fill="#11789f"/>
<rect x="567.22" y="95.8" width="13.1" height="26.1" fill="#4db2ea"/>
<rect x="567.22" y="121.9" width="13.1" height="28.2" fill="#8ddffd"/>
<rect x="567.22" y="150.1" width="13.1" height="25.7" fill="#fbd579"/>
<rect x="567.22" y="175.8" width="13.1" height="28.2" fill="#f6b25c"/>
<rect x="567.22" y="204.0" width="13.1" height="25.8" fill="#56d5dd"/>
<rect x="567.22" y="229.8" width="13.1" height="27.6" fill="#3a8db1"/>
<rect x="567.22" y="257.4" width="13.1" height="29.3" fill="#fb6d6a"/>
<rect x="567.22" y="286.7" width="13.1" height="25.2" fill="#fdaaae"/>
<rect x="567.22" y="311.9" width="13.1" height="19.8" fill="#a1756e"/>
<rect x="567.22" y="331.7" width="13.1" height="26.1" fill="#cbc0a2"/>
<rect x="567.22" y="357.8" width="13.1" height="23.0" fill="#26a1e6"/>
<rect x="567.22" y="380.8" width="13.1" height="33.3" fill="#6dd5fb"/>
<rect x="567.22" y="414.1" width="13.1" height="21.9" fill="#fbcb55"/>
<rect x="567.22" y="436.0" width="13.1" height="22.6" fill="#f6a235"/>
<rect x="567.22" y="458.6" width="13.1" height="25.6" fill="#33cdda"/>
<rect x="567.22" y="484.2" width="13.1" height="21.6" fill="#11789f"/>
<rect x="584.56" y="123.3" width="13.1" height="22.5" fill="#4db2ea"/>
<rect x="584.56" y="145.8" width="13.1" height="28.4" fill="#8ddffd"/>
<rect x="584.56" y="174.2" width="13.1" height="24.8" fill="#fbd579"/>
<rect x="584.56" y="199.0" width="13.1" height="29.5" fill="#f6b25c"/>
<rect x="584.56" y="228.5" width="13.1" height="23.3" fill="#56d5dd"/>
<rect x="584.56" y="251.8" width="13.1" height="23.5" fill="#3a8db1"/>
<rect x="584.56" y="275.3" width="13.1" height="26.7" fill="#fb6d6a"/>
<rect x="584.56" y="302.0" width="13.1" height="24.2" fill="#fdaaae"/>
<rect x="584.56" y="326.2" width="13.1" height="20.8" fill="#a1756e"/>
<rect x="584.56" y="347.0" width="13.1" height="23.0" fill="#cbc0a2"/>
<rect x="584.56" y="370.0" width="13.1" height="22.7" fill="#26a1e6"/>
<rect x="584.56" y="392.7" width="13.1" height="26.3" fill="#6dd5fb"/>
<rect x="584.56" y="419.0" width="13.1" height="20.8" fill="#fbcb55"/>
<rect x="584.56" y="439.8" width="13.1" height="21.5" fill="#f6a235"/>
<rect x="584.56" y="461.3" width="13.1" height="25.7" fill="#33cdda"/>
<rect x="584.56" y="487.0" width="13.1" height="18.8" fill="#11789f"/>
<rect x="601.90" y="125.2" width="13.1" height="20.6" fill="#4db2ea"/>
<rect x="601.90" y="145.8" width="13.1" height="26.7" fill="#8ddffd"/>
<rect x="601.90" y="172.5" width="13.1" height="26.2" fill="#fbd579"/>
<rect x="601.90" y="198.7" width="13.1" height="23.1" fill="#f6b25c"/>
<rect x="601.90" y="221.8" width="13.1" height="24.2" fill="#56d5dd"/>
<rect x="601.90" y="246.0" width="13.1" height="23.8" fill="#3a8db1"/>
<rect x="601.90" y="269.8" width="13.1" height="23.5" fill="#fb6d6a"/>
<rect x="601.90" y="293.3" width="13.1" height="24.5" fill="#fdaaae"/>
<rect x="601.90" y="317.8" width="13.1" height="21.9" fill="#a1756e"/>
<rect x="601.90" y="339.7" width="13.1" height="28.3" fill="#cbc0a2"/>
<rect x="601.90" y="368.0" width="13.1" height="23.8" fill="#26a1e6"/>
<rect x="601.90" y="391.8" width="13.1" height="25.9" fill="#6dd5fb"/>
<rect x="601.90" y="417.7" width="13.1" height="23.0" fill="#fbcb55"/>
<rect x="601.90" y="440.7" width="13.1" height="18.6" fill="#f6a235"/>
<rect x="601.90" y="459.3" width="13.1" height="26.7" fill="#33cdda"/>
<rect x="601.90" y="486.0" width="13.1" height="19.8" fill="#11789f"/>
<rect x="619.24" y="120.2" width="13.1" height="21.5" fill="#4db2ea"/>
<rect x="619.24" y="141.7" width="13.1" height="25.1" fill="#8ddffd"/>
<rect x="619.24" y="166.8" width="13.1" height="29.2" fill="#fbd579"/>
<rect x="619.24" y="196.0" width="13.1" height="28.0" fill="#f6b25c"/>
<rect x="619.24" y="224.0" width="13.1" height="25.8" fill="#56d5dd"/>
<rect x="619.24" y="249.8" width="13.1" height="26.7" fill="#3a8db1"/>
<rect x="619.24" y="276.5" width="13.1" height="20.5" fill="#fb6d6a"/>
<rect x="619.24" y="297.0" width="13.1" height="21.7" fill="#fdaaae"/>
<rect x="619.24" y="318.7" width="13.1" height="19.3" fill="#a1756e"/>
<rect x="619.24" y="338.0" width="13.1" height="23.7" fill="#cbc0a2"/>
<rect x="619.24" y="361.7" width="13.1" height="25.1" fill="#26a1e6"/>
<rect x="619.24" y="386.8" width="13.1" height="26.7" fill="#6dd5fb"/>
<rect x="619.24" y="413.5" width="13.1" height="22.5" fill="#fbcb55"/>
<rect x="619.24" y="436.0" width="13.1" height="24.2" fill="#f6a235"/>
<rect x="619.24" y="460.2" width="13.1" height="22.6" fill="#33cdda"/>
<rect x="619.24" y="482.8" width="13.1" height="23.0" fill="#11789f"/>
</g>
<text transform="translate(87.7,520.9) rotate(-45) scale(0.880,1)" font-size="14.3" fill="#868686" text-anchor="end">24 May 2005</text>
<text transform="translate(122.3,520.9) rotate(-45) scale(0.880,1)" font-size="14.3" fill="#868686" text-anchor="end">26 May 2005</text>
<text transform="translate(156.9,520.9) rotate(-45) scale(0.880,1)" font-size="14.3" fill="#868686" text-anchor="end">28 May 2005</text>
<text transform="translate(191.5,520.9) rotate(-45) scale(0.880,1)" font-size="14.3" fill="#868686" text-anchor="end">30 May 2005</text>
<text transform="translate(226.1,520.9) rotate(-45) scale(0.880,1)" font-size="14.3" fill="#868686" text-anchor="end">14 Jun 2005</text>
<text transform="translate(260.8,520.9) rotate(-45) scale(0.880,1)" font-size="14.3" fill="#868686" text-anchor="end">16 Jun 2005</text>
<text transform="translate(295.4,520.9) rotate(-45) scale(0.880,1)" font-size="14.3" fill="#868686" text-anchor="end">18 Jun 2005</text>
<text transform="translate(330.0,520.9) rotate(-45) scale(0.880,1)" font-size="14.3" fill="#868686" text-anchor="end">20 Jun 2005</text>
<text transform="translate(364.6,520.9) rotate(-45) scale(0.880,1)" font-size="14.3" fill="#868686" text-anchor="end">05 Jul 2005</text>
<text transform="translate(399.2,520.9) rotate(-45) scale(0.880,1)" font-size="14.3" fill="#868686" text-anchor="end">07 Jul 2005</text>
<text transform="translate(433.8,520.9) rotate(-45) scale(0.880,1)" font-size="14.3" fill="#868686" text-anchor="end">09 Jul 2005</text>
<text transform="translate(468.5,520.9) rotate(-45) scale(0.880,1)" font-size="14.3" fill="#868686" text-anchor="end">11 Jul 2005</text>
<text transform="translate(503.1,520.9) rotate(-45) scale(0.880,1)" font-size="14.3" fill="#868686" text-anchor="end">26 Jul 2005</text>
<text transform="translate(537.7,520.9) rotate(-45) scale(0.880,1)" font-size="14.3" fill="#868686" text-anchor="end">28 Jul 2005</text>
<text transform="translate(572.3,520.9) rotate(-45) scale(0.880,1)" font-size="14.3" fill="#868686" text-anchor="end">30 Jul 2005</text>
<text transform="translate(606.9,520.9) rotate(-45) scale(0.880,1)" font-size="14.3" fill="#868686" text-anchor="end">01 Aug 2005</text>
<rect x="79" y="582" width="549" height="8" rx="4" fill="#efeff5"/>
<rect x="79" y="582" width="424" height="8" rx="4" fill="#d0d0d6"/>
<text x="353.6" y="613.4" font-size="19" fill="#7a7a7a" text-anchor="middle" textLength="96.4" lengthAdjust="spacingAndGlyphs">Rental Date</text>
<rect x="659" y="49" width="14" height="14" fill="#11789f"/>
<text x="681.3" y="59.0" font-size="13.7" fill="#727272" textLength="39.2" lengthAdjust="spacingAndGlyphs">Action</text>
<rect x="659" y="81" width="14" height="14" fill="#33cdda"/>
<text x="681.3" y="91.0" font-size="13.7" fill="#727272" textLength="63.2" lengthAdjust="spacingAndGlyphs">Animation</text>
<rect x="659" y="113" width="14" height="14" fill="#f6a235"/>
<text x="681.3" y="123.0" font-size="13.7" fill="#727272" textLength="50.7" lengthAdjust="spacingAndGlyphs">Children</text>
<rect x="659" y="145" width="14" height="14" fill="#fbcb55"/>
<text x="681.3" y="155.0" font-size="13.7" fill="#727272" textLength="46.7" lengthAdjust="spacingAndGlyphs">Classics</text>
<rect x="659" y="177" width="14" height="14" fill="#6dd5fb"/>
<text x="681.3" y="187.0" font-size="13.7" fill="#727272" textLength="48.3" lengthAdjust="spacingAndGlyphs">Comedy</text>
<rect x="659" y="209" width="14" height="14" fill="#26a1e6"/>
<text x="681.3" y="219.0" font-size="13.7" fill="#727272" textLength="81.7" lengthAdjust="spacingAndGlyphs">Documentary</text>
<rect x="659" y="241" width="14" height="14" fill="#cbc0a2"/>
<text x="681.3" y="251.0" font-size="13.7" fill="#727272" textLength="39.2" lengthAdjust="spacingAndGlyphs">Drama</text>
<rect x="659" y="273" width="14" height="14" fill="#a1756e"/>
<text x="681.3" y="283.0" font-size="13.7" fill="#727272" textLength="39.5" lengthAdjust="spacingAndGlyphs">Family</text>
<rect x="659" y="305" width="14" height="14" fill="#fdaaae"/>
<text x="681.3" y="315.0" font-size="13.7" fill="#727272" textLength="44.7" lengthAdjust="spacingAndGlyphs">Foreign</text>
<rect x="659" y="337" width="14" height="14" fill="#fb6d6a"/>
<text x="681.3" y="347.0" font-size="13.7" fill="#727272" textLength="40.0" lengthAdjust="spacingAndGlyphs">Games</text>
<rect x="659" y="369" width="14" height="14" fill="#3a8db1"/>
<text x="681.3" y="379.0" font-size="13.7" fill="#727272" textLength="38.8" lengthAdjust="spacingAndGlyphs">Horror</text>
<rect x="659" y="401" width="14" height="14" fill="#56d5dd"/>
<text x="681.3" y="411.0" font-size="13.7" fill="#727272" textLength="34.5" lengthAdjust="spacingAndGlyphs">Music</text>
<rect x="659" y="433" width="14" height="14" fill="#f6b25c"/>
<text x="681.3" y="443.0" font-size="13.7" fill="#727272" textLength="25.2" lengthAdjust="spacingAndGlyphs">New</text>
<rect x="659" y="465" width="14" height="14" fill="#fbd579"/>
<text x="681.3" y="475.0" font-size="13.7" fill="#727272" textLength="33.4" lengthAdjust="spacingAndGlyphs">Sci-Fi</text>
<rect x="659" y="497" width="14" height="14" fill="#8ddffd"/>
<text x="681.3" y="507.0" font-size="13.7" fill="#727272" textLength="38.9" lengthAdjust="spacingAndGlyphs">Sports</text>
<rect x="659" y="529" width="14" height="14" fill="#4db2ea"/>
<text x="681.3" y="539.0" font-size="13.7" fill="#727272" textLength="36.6" lengthAdjust="spacingAndGlyphs">Travel</text>
</svg></body></html>
